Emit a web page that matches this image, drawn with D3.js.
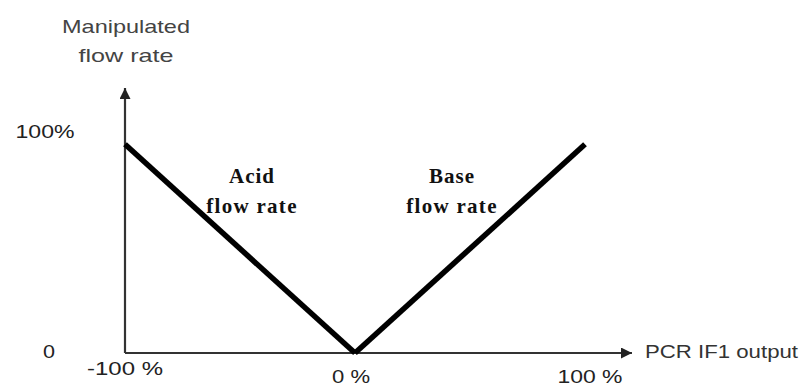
<!DOCTYPE html>
<html><head><meta charset="utf-8">
<script src="https://cdn.jsdelivr.net/npm/d3@7"></script>
<style>body{margin:0;background:#fff}svg{display:block}</style>
</head><body>
<svg id="c" width="802" height="387"></svg>
<script>
const xTicks = [-100, 0, 100];
const xTickLabels = ["-100 %", "0 %", "100 %"];
const yTicks = [0, 100];
const yTickLabels = ["0", "100%"];
const acidX = [-100, 0];
const acidY = [94, 0];
const baseX = [0, 100];
const baseY = [0, 94];
const yTitle = ["Manipulated", "flow rate"];
const xTitle = "PCR IF1 output";
const acidLabel = ["Acid", "flow rate"];
const baseLabel = ["Base", "flow rate"];

const svg = d3.select("#c");
const x = d3.scaleLinear().domain([-100, 100]).range([125, 585]);
const y = d3.scaleLinear().domain([0, 100]).range([353, 131]);

const defs = svg.append("defs");
defs.append("marker").attr("id","arr").attr("viewBox","0 0 10 10").attr("refX",10).attr("refY",5)
  .attr("markerWidth",6).attr("markerHeight",5).attr("markerUnits","strokeWidth").attr("orient","auto")
  .append("path").attr("d","M0,0L10,5L0,10Z").attr("fill","#222");

// axes
svg.append("line").attr("x1", x(-100)).attr("y1", y(0)).attr("x2", 632).attr("y2", y(0))
  .attr("stroke","#333").attr("stroke-width",2.2).attr("marker-end","url(#arr)");
svg.append("line").attr("x1", x(-100)).attr("y1", y(0)).attr("x2", x(-100)).attr("y2", 88)
  .attr("stroke","#333").attr("stroke-width",2.2).attr("marker-end","url(#arr)");

const sans = "'Liberation Sans', Arial, sans-serif";
// y title
const yTitleLen = [128, 95];
svg.append("text").attr("font-family",sans).attr("font-size",18.5).attr("fill","#444")
  .attr("text-anchor","middle").selectAll("tspan").data(yTitle).join("tspan")
  .attr("x",126).attr("y",(d,i)=>33+i*29).attr("textLength",(d,i)=>yTitleLen[i])
  .attr("lengthAdjust","spacingAndGlyphs").text(d=>d);
// x title
svg.append("text").attr("font-family",sans).attr("font-size",17.5).attr("fill","#333")
  .attr("x",645).attr("y",358).attr("textLength",153).attr("lengthAdjust","spacingAndGlyphs").text(xTitle);

// y tick labels
const yLabX = [49, 45];
const yLabLen = [12, 59];
svg.selectAll(".yt").data(yTicks).join("text").attr("class","yt")
  .attr("font-family",sans).attr("font-size",18).attr("fill","#222").attr("text-anchor","middle")
  .attr("x",(d,i)=>yLabX[i]).attr("y",(d)=>y(d)+(d===0?5:7))
  .attr("textLength",(d,i)=>yLabLen[i]).attr("lengthAdjust","spacingAndGlyphs")
  .text((d,i)=>yTickLabels[i]);
// x tick labels
const xOff = [22, 30, 30];
const xLen = [76, 38, 65];
svg.selectAll(".xt").data(xTicks).join("text").attr("class","xt")
  .attr("font-family",sans).attr("font-size",18).attr("fill","#222").attr("text-anchor","middle")
  .attr("x",(d,i)=>x(d)+[0,-4,5][i]).attr("y",(d,i)=>y(0)+xOff[i])
  .attr("textLength",(d,i)=>xLen[i]).attr("lengthAdjust","spacingAndGlyphs")
  .text((d,i)=>xTickLabels[i]);

// lines
const line = d3.line().x(d=>x(d[0])).y(d=>y(d[1]));
[[acidX,acidY],[baseX,baseY]].forEach(([xs,ys])=>{
  svg.append("path").attr("d", line(xs.map((v,i)=>[v,ys[i]])))
    .attr("fill","none").attr("stroke","#000").attr("stroke-width",5.5).attr("stroke-linecap","butt");
});

// annotations
const serif = "'Liberation Serif','Times New Roman',serif";
[[acidLabel,252],[baseLabel,452]].forEach(([lab,cx])=>{
  svg.append("text").attr("font-family",serif).attr("font-weight","bold").attr("font-size",21).attr("fill","#111")
    .attr("text-anchor","middle").selectAll("tspan").data(lab).join("tspan")
    .attr("x",cx).attr("y",(d,i)=>183+i*30).attr("letter-spacing",(d,i)=>i?1.3:1).text(d=>d);
});
</script>
</body></html>
